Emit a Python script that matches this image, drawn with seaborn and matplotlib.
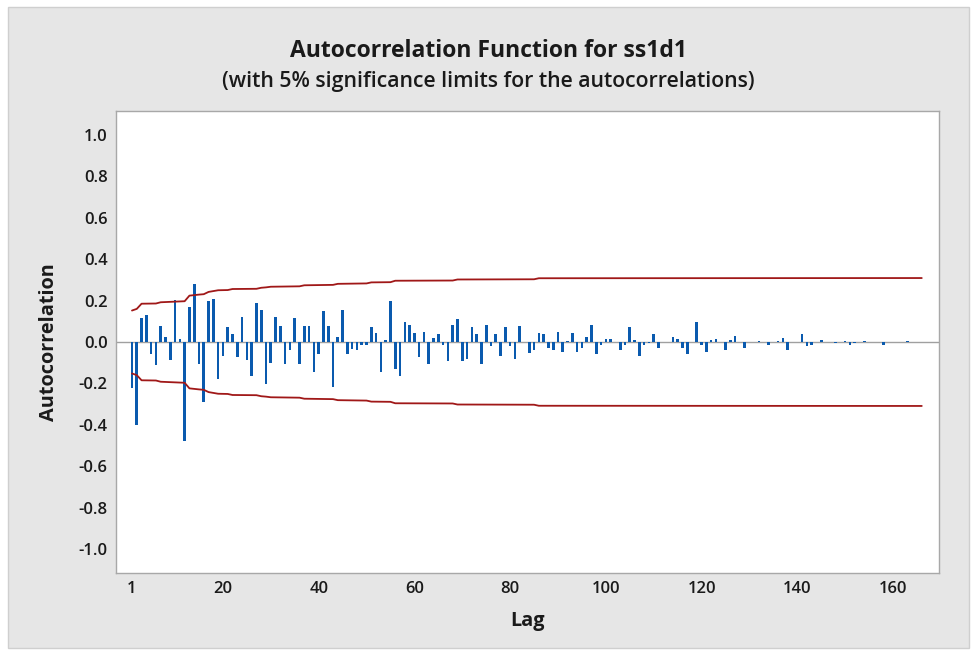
import numpy as np
import pandas as pd
import matplotlib
matplotlib.use("Agg")
import matplotlib.pyplot as plt
import seaborn as sns
from matplotlib.patches import Rectangle

# ACF values, lags 1..166
lags = list(range(1, 167))
acf_values = [
    -0.224, -0.400, 0.114, 0.129, -0.060, -0.113, 0.076, 0.023, -0.087, 0.201,
    0.016, -0.480, 0.169, 0.280, -0.105, -0.290, 0.200, 0.208, -0.180, -0.068,
    0.071, 0.039, -0.074, 0.122, -0.087, -0.166, 0.188, 0.156, -0.203, -0.100,
    0.122, 0.077, -0.105, -0.040, 0.116, -0.105, 0.077, 0.077, -0.145, -0.060,
    0.150, 0.077, -0.217, 0.023, 0.156, -0.060, -0.034, -0.040, -0.015, -0.015,
    0.071, 0.044, -0.145, 0.011, 0.200, -0.132, -0.166, 0.097, 0.084, 0.044,
    -0.074, 0.050, -0.105, 0.018, 0.037, -0.015, -0.093, 0.084, 0.110, -0.093,
    -0.080, 0.071, 0.037, -0.105, 0.084, -0.020, 0.037, -0.068, 0.071, -0.020,
    -0.080, 0.077, 0.000, -0.053, -0.040, 0.044, 0.037, -0.027, -0.040, 0.050,
    -0.047, 0.005, 0.044, -0.047, -0.027, 0.023, 0.084, -0.060, -0.015, 0.016,
    0.016, 0.000, -0.040, -0.015, 0.071, 0.010, -0.068, -0.015, -0.007, 0.037,
    -0.027, 0.000, 0.000, 0.023, 0.016, -0.027, -0.060, 0.000, 0.097, -0.015,
    -0.047, 0.010, 0.016, 0.000, -0.040, 0.010, 0.030, 0.000, -0.027, 0.000,
    0.000, 0.005, 0.000, -0.015, 0.000, 0.005, 0.018, -0.040, 0.000, 0.000,
    0.037, -0.020, -0.015, 0.000, 0.011, 0.000, 0.000, -0.007, 0.000, 0.005,
    -0.015, -0.007, 0.000, 0.005, 0.000, 0.000, 0.000, -0.015, 0.000, 0.000,
    0.000, 0.000, 0.005, 0.000, 0.000, 0.000,
]

# 5% significance limit (upper), read at the lags where it changes
limit_lags = [1, 2, 3, 6, 7, 12, 13, 15, 16, 17, 18, 19, 21, 22, 27, 28, 29, 30,
              36, 37, 43, 44, 50, 51, 55, 56, 68, 69, 85, 86, 166]
limit_upper = [0.152, 0.160, 0.185, 0.186, 0.192, 0.197, 0.224, 0.229, 0.231,
               0.242, 0.246, 0.250, 0.251, 0.256, 0.257, 0.262, 0.264, 0.267,
               0.269, 0.274, 0.276, 0.281, 0.283, 0.288, 0.289, 0.296, 0.297,
               0.302, 0.303, 0.308, 0.309]
limit_lower = [-v for v in limit_upper]

x_ticks = [1, 20, 40, 60, 80, 100, 120, 140, 160]
y_ticks = [1.0, 0.8, 0.6, 0.4, 0.2, 0.0, -0.2, -0.4, -0.6, -0.8, -1.0]

sns.set_theme(style="white")
plt.rcParams["font.family"] = ["Open Sans", "DejaVu Sans"]

bar_color = "#0A5AAE"
limit_color = "#A01818"
frame_gray = "#A8A8A8"
text_color = "#1A1A1A"

fig = plt.figure(figsize=(9.77, 6.55), dpi=100)
fig.patch.set_facecolor("white")
fig.patches.append(Rectangle((8 / 977, 1 - 648 / 655), 961 / 977, 641 / 655,
                             transform=fig.transFigure, facecolor="#E6E6E6",
                             edgecolor="#CFCFCF", linewidth=1.0, zorder=-1))

ax = fig.add_axes([116 / 977, 1 - 573 / 655, 823 / 977, 462 / 655])
ax.set_zorder(2)
ax.set_facecolor("white")

ax.axhline(0, color="#A0A0A0", linewidth=1.0, zorder=1)

df = pd.DataFrame({"Lag": lags, "ACF": acf_values})
sns.barplot(data=df, x="Lag", y="ACF", native_scale=True, color=bar_color,
            saturation=1, width=0.55, linewidth=0, ax=ax, zorder=2)

sns.lineplot(x=limit_lags, y=limit_upper, color=limit_color, linewidth=1.3, ax=ax, zorder=3)
sns.lineplot(x=limit_lags, y=limit_lower, color=limit_color, linewidth=1.3, ax=ax, zorder=3)

ax.set_xlim(-2.34, 169.6)
ax.set_ylim(-1.116, 1.116)
ax.set_xticks(x_ticks)
ax.set_xticklabels([str(t) for t in x_ticks])
ax.set_yticks(y_ticks)
ax.set_yticklabels([f"{t:.1f}" for t in y_ticks])

for side in ["left", "bottom", "top", "right"]:
    ax.spines[side].set_color(frame_gray)
    ax.spines[side].set_linewidth(1.0)

ax.tick_params(axis="both", which="major", direction="out", length=3, width=1,
               color=frame_gray, labelcolor=text_color, labelsize=12, pad=3)
for lbl in ax.get_xticklabels() + ax.get_yticklabels():
    lbl.set_fontweight("semibold")

ax.set_xlabel("Lag", fontsize=14.3, fontweight="bold", color=text_color, labelpad=10)
ax.set_ylabel("Autocorrelation", fontsize=14.3, fontweight="bold", color=text_color, labelpad=14)

fig.text(0.5, 1 - 51 / 655, "Autocorrelation Function for ss1d1", ha="center", va="center",
         fontsize=16.5, fontweight="bold", color=text_color)
fig.text(0.5, 1 - 81 / 655, "(with 5% significance limits for the autocorrelations)",
         ha="center", va="center", fontsize=15.3, fontweight="semibold", color=text_color)

fig.savefig("out.png", dpi=100, facecolor=fig.get_facecolor())
